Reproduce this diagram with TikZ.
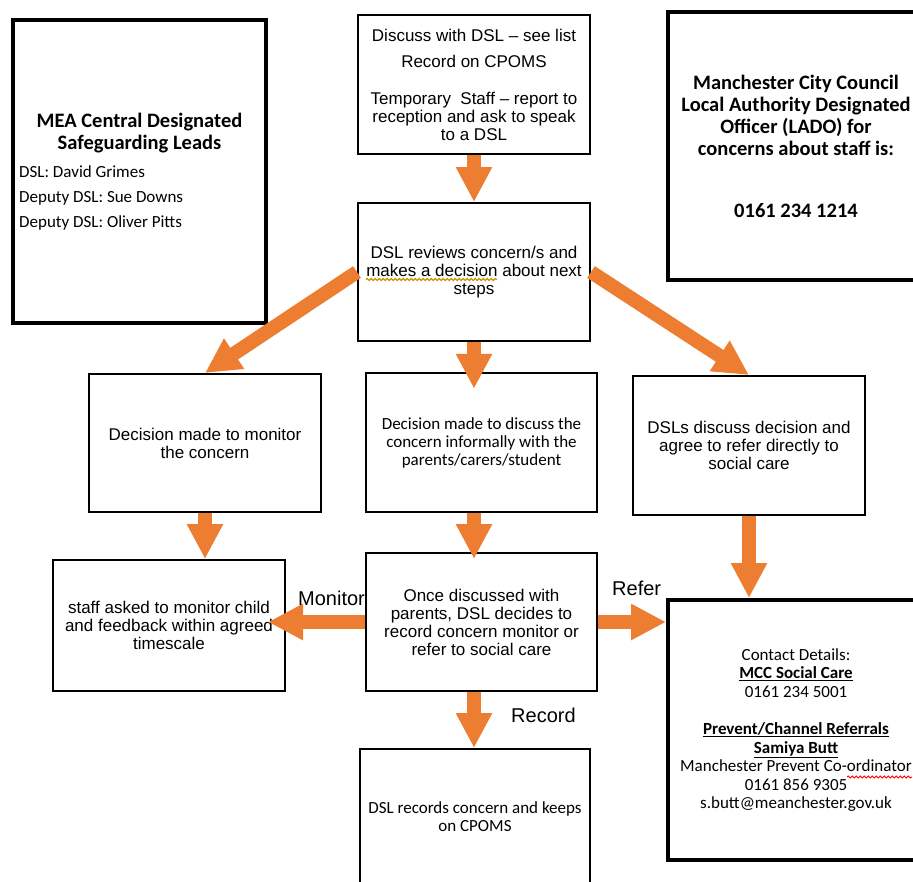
\documentclass[tikz,border=0pt]{standalone}
\usepackage{fontspec}
\setmainfont{Liberation Sans}
\newfontfamily\carlito{Carlito}
\usetikzlibrary{arrows.meta,calc,decorations.pathmorphing}
\definecolor{arr}{HTML}{ED7D31}
\definecolor{gramm}{HTML}{C49A00}
\begin{document}
\begin{tikzpicture}[x=1pt,y=-1pt,
  thinbox/.style={draw=black,line width=2pt,inner sep=0pt,align=center,font=\fontsize{17}{18}\selectfont},
  thickbox/.style={draw=black,line width=4pt,inner sep=0pt,align=center},
  calfont/.style={font=\carlito\fontsize{17}{18}\selectfont},
  blockarrow/.style={draw=arr,line width=14pt,-{Triangle[width=34pt,length=35pt]}},
  lab/.style={font=\fontsize{20}{22}\selectfont,anchor=base west,inner sep=0pt},
  squig/.style={decorate,decoration={snake,amplitude=1pt,segment length=4pt},line width=1.2pt}]
\useasboundingbox (0,0) rectangle (913,881);
\fill[white] (0,0) rectangle (913,881);
\clip (0,0) rectangle (913,881);

% boxes
\node[thickbox,minimum width=253pt,minimum height=303pt] (mea) at (139.5,171.5) {};
\node[font=\carlito\bfseries\fontsize{20.5}{21.5}\selectfont,align=center,inner sep=0pt] (meat) at (139.5,133) {MEA Central Designated\\Safeguarding Leads};
\node[font=\carlito\fontsize{17}{25}\selectfont,align=left,inner sep=0pt,anchor=west] (meal) at (19,198) {DSL: David Grimes\\Deputy DSL: Sue Downs\\Deputy DSL: Oliver Pitts};

\node[thinbox,minimum width=232pt,minimum height=139pt] (top) at (474,84.5)
  {Discuss with DSL – see list\\[8.5pt]Record on CPOMS\\[18.5pt]Temporary\ \ Staff – report to\\reception and ask to speak\\to a DSL};

\node[thickbox,minimum width=256pt,minimum height=268pt,font=\carlito\bfseries\fontsize{20.5}{22}\selectfont] (lado) at (796,146)
  {Manchester City Council\\Local Authority Designated\\Officer (LADO) for\\concerns about staff is:\\[40pt]0161 234 1214};

\node[thinbox,minimum width=232pt,minimum height=138pt] (rev) at (474,272)
  {DSL reviews concern/s and\\makes a decision about next\\steps};

\node[thinbox,minimum width=232pt,minimum height=138pt] (mon) at (205,443)
  {Decision made to monitor\\the concern};

\node[thinbox,line width=2.5pt,minimum width=231pt,minimum height=139pt,calfont] (mid) at (481.5,442.5)
  {Decision made to discuss the\\concern informally with the\\parents/carers/student};

\node[thinbox,minimum width=232pt,minimum height=139pt] (dsls) at (749,445.5)
  {DSLs discuss decision and\\agree to refer directly to\\social care};

\node[thinbox,minimum width=232pt,minimum height=131pt] (staff) at (169,625.5)
  {staff asked to monitor child\\and feedback within agreed\\timescale};

\node[thinbox,minimum width=231pt,minimum height=138pt] (once) at (481.5,622)
  {Once discussed with\\parents, DSL decides to\\record concern monitor or\\refer to social care};

\node[thinbox,minimum width=230pt,minimum height=151pt] (rec) at (475,824.5) {};
\node[calfont,align=center,inner sep=0pt] (rect) at (475,817) {DSL records concern and keeps\\on CPOMS};

\node[thickbox,minimum width=256pt,minimum height=260pt,font=\carlito\fontsize{17}{18.6}\selectfont] (contact) at (796,730)
  {Contact Details:\\\underline{\textbf{MCC Social Care}}\\0161 234 5001\\[18.6pt]\underline{\textbf{Prevent/Channel Referrals}}\\\underline{\textbf{Samiya Butt}}\\Manchester Prevent Co-ordinator\\0161 856 9305\\s.butt@meanchester.gov.uk};

% spell-check marks
\draw[squig,draw=gramm] (366,279.5) -- (497,279.5);
\draw[squig,draw=red,line width=0.9pt] (847,777) -- (912,777);

% arrows
\draw[blockarrow] (top.south) -- (rev.north);
\draw[blockarrow] (rev.west) -- (mon.north);
\draw[blockarrow] (rev.south) -- ($(rev.south |- mid.north)+(0,17)$);
\draw[blockarrow] (rev.east) -- (dsls.north);
\draw[blockarrow] (mon.south) -- (mon.south |- staff.north);
\draw[blockarrow] (rev.south |- mid.south) -- ($(rev.south |- once.north)+(0,7)$);
\draw[blockarrow] (dsls.south) -- (dsls.south |- contact.north);
\draw[blockarrow] (once.west) -- ($(once.west -| staff.east)+(-18,0)$);
\draw[blockarrow] (once.east) -- (once.east -| contact.west);
\draw[blockarrow] (rev.south |- once.south) -- (rev.south |- rec.north);

% labels
\node[lab] (lmon) at (298,605) {Monitor};
\node[lab] (lref) at (612,595) {Refer};
\node[lab] (lrec) at (511,722) {Record};
\end{tikzpicture}
\end{document}
